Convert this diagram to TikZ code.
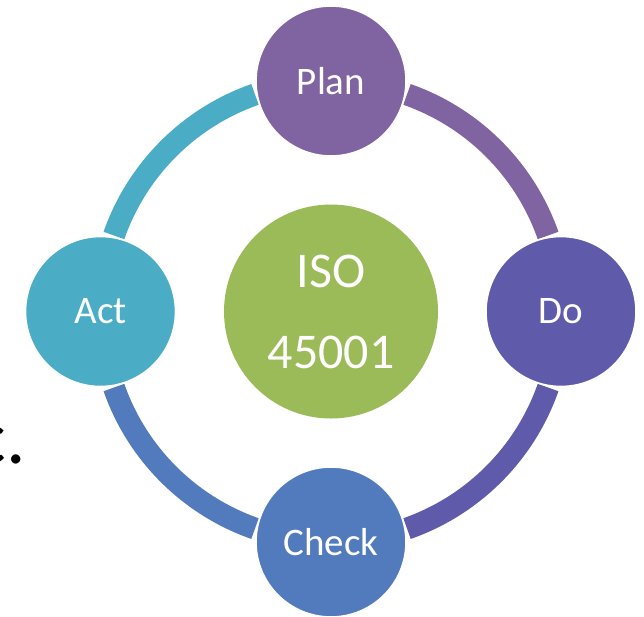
\documentclass[tikz,border=0pt]{standalone}
\usepackage{fontspec}
\setmainfont{Carlito}
\definecolor{plancol}{HTML}{8064A2}
\definecolor{docol}{HTML}{5F5BAA}
\definecolor{checkcol}{HTML}{527BBD}
\definecolor{actcol}{HTML}{4BACC6}
\definecolor{isocol}{HTML}{9BBB59}
\begin{document}
\begin{tikzpicture}[
    x=1pt,y=-1pt,
    every node/.style={text=white},
    stage/.style={circle, draw=white, line width=1.6pt, minimum size=150pt, inner sep=0pt, font=\fontsize{39}{44}\selectfont},
    core/.style={circle, fill=isocol, minimum size=214pt, inner sep=0pt, align=center, font=\fontsize{50}{81}\selectfont},
    ringarc/.style={line width=22pt}
]
    \useasboundingbox (0,0) rectangle (644,616);

    \node[core] (hub) at (331,311.5) {ISO\\45001};

    % ring segments between the stages
    \foreach \a/\col in {-70.7/plancol,19.3/docol,109.3/checkcol,199.3/actcol} {
        \draw[ringarc, draw=\col] ([shift={(\a:230)}]hub.center) arc[start angle=\a, delta angle=51.4, radius=230];
    }

    \node[stage, fill=plancol] (plan) at (331,81) {Plan};
    \node[stage, fill=docol] (do) at (561,311.5) {Do};
    \node[stage, fill=checkcol] (check) at (331,542) {Check};
    \node[stage, fill=actcol] (act) at (100.5,311.5) {Act};

    \node[text=black, anchor=base east, inner sep=0pt, font=\fontsize{77}{80}\selectfont] (cut) at (26,463) {c.};
\end{tikzpicture}
\end{document}
